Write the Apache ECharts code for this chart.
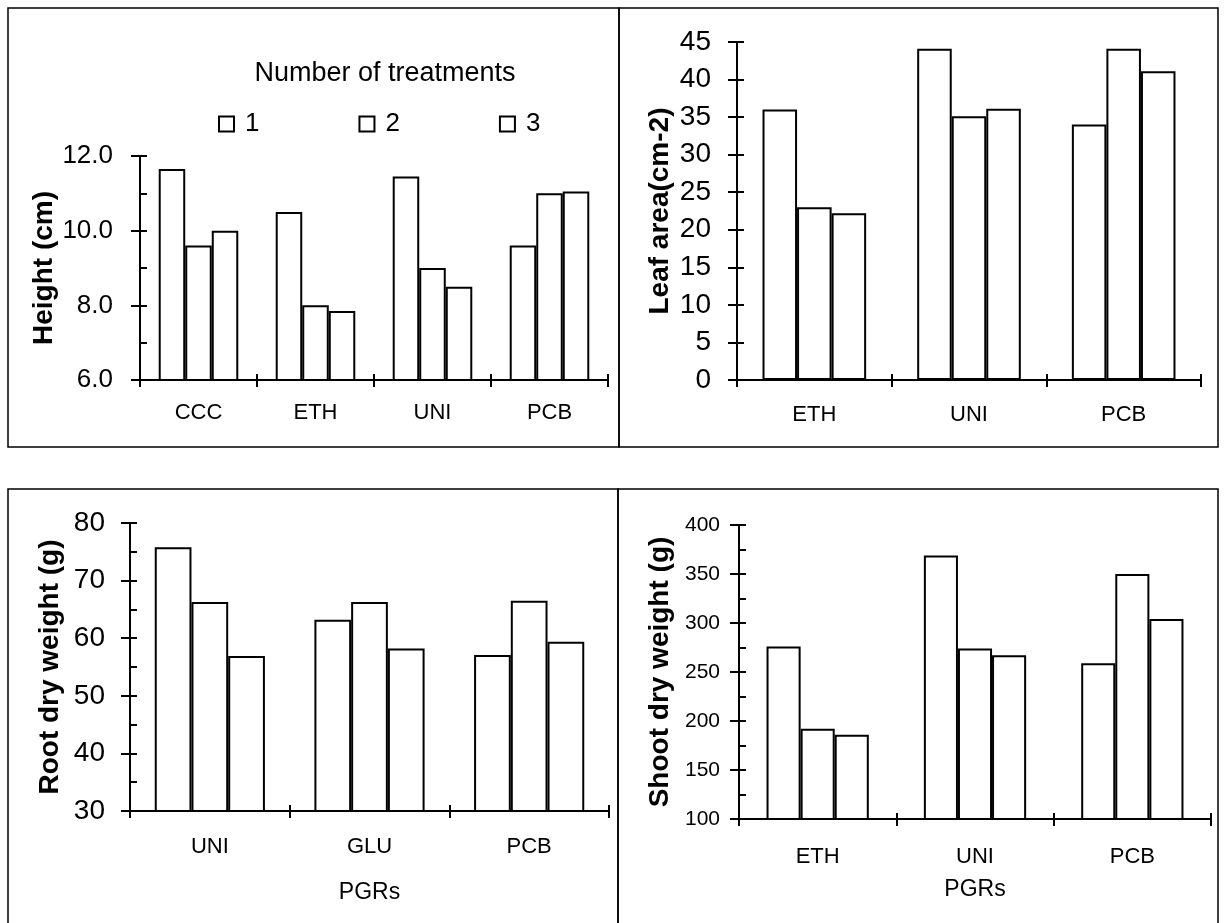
<!DOCTYPE html>
<html>
<head>
<meta charset="utf-8">
<script src="https://cdn.jsdelivr.net/npm/echarts@6/dist/echarts.min.js"></script>
<style>
  html, body { margin: 0; padding: 0; background: #fff; }
  #chart { width: 1226px; height: 923px; }
</style>
</head>
<body>
<div id="chart"></div>
<script>
// plant height, cm
const heightCats = ['CCC', 'ETH', 'UNI', 'PCB'];
const height1 = [11.65, 10.5, 11.45, 9.6];
const height2 = [9.6, 8.0, 9.0, 11.0];
const height3 = [10.0, 7.85, 8.5, 11.05];

// leaf area
const leafCats = ['ETH', 'UNI', 'PCB'];
const leaf1 = [36.0, 44.1, 34.0];
const leaf2 = [23.0, 35.1, 44.1];
const leaf3 = [22.2, 36.1, 41.1];

// root dry weight, g
const rootCats = ['UNI', 'GLU', 'PCB'];
const root1 = [75.8, 63.2, 57.1];
const root2 = [66.3, 66.3, 66.5];
const root3 = [56.9, 58.2, 59.4];

// shoot dry weight, g
const shootCats = ['ETH', 'UNI', 'PCB'];
const shoot1 = [276, 369, 259];
const shoot2 = [192, 274, 350];
const shoot3 = [186, 267, 304];

const treatments = ['1', '2', '3'];

const FONT = "'Liberation Sans', Arial, sans-serif";
const black = { color: '#000', width: 2 };

const panels = [
  {
    cats: heightCats, values: [height1, height2, height3],
    min: 6, max: 12, interval: 2, minor: true, digits: 1,
    grid: { left: 140, top: 156, width: 468, height: 224 },
    labelSize: 26, labelMargin: 27, catMargin: 22, gap: '32%',
    name: 'Height (cm)', nameGap: 79
  },
  {
    cats: leafCats, values: [leaf1, leaf2, leaf3],
    min: 0, max: 45, interval: 5, minor: false, digits: 0,
    grid: { left: 737, top: 42, width: 464, height: 338 },
    labelSize: 28, labelMargin: 26, catMargin: 24, gap: '33%',
    name: 'Leaf area(cm-2)', nameGap: 63
  },
  {
    cats: rootCats, values: [root1, root2, root3],
    min: 30, max: 80, interval: 10, minor: true, digits: 0,
    grid: { left: 130, top: 523, width: 479, height: 288 },
    labelSize: 28, labelMargin: 25, catMargin: 25, gap: '31%',
    name: 'Root dry weight (g)', nameGap: 66, xName: 'PGRs', xNameGap: 70
  },
  {
    cats: shootCats, values: [shoot1, shoot2, shoot3],
    min: 100, max: 400, interval: 50, minor: true, digits: 0,
    grid: { left: 739, top: 525, width: 472, height: 294 },
    labelSize: 21, labelMargin: 19, catMargin: 27, gap: '35%',
    name: 'Shoot dry weight (g)', nameGap: 65, xName: 'PGRs', xNameGap: 59
  }
];

const grid = [], xAxis = [], yAxis = [], series = [];

panels.forEach((p, i) => {
  grid.push(Object.assign({ containLabel: false }, p.grid));

  // main category axis + a second one that only draws the inward half of the ticks
  xAxis.push({
    gridIndex: i, type: 'category', data: p.cats, position: 'bottom',
    axisLine: { onZero: false, lineStyle: black },
    axisTick: { show: true, length: 7, lineStyle: black },
    axisLabel: { margin: p.catMargin, fontSize: 22, color: '#000', fontFamily: FONT },
    name: p.xName || '', nameLocation: 'middle', nameGap: p.xNameGap || 0,
    nameTextStyle: { fontSize: 23, color: '#000', fontFamily: FONT }
  });
  xAxis.push({
    gridIndex: i, type: 'category', data: p.cats, position: 'bottom',
    axisLine: { show: false, onZero: false },
    axisTick: { show: true, inside: true, length: 6, lineStyle: black },
    axisLabel: { show: false }
  });

  yAxis.push({
    gridIndex: i, type: 'value', position: 'left',
    min: p.min, max: p.max, interval: p.interval,
    axisLine: { show: true, lineStyle: black },
    axisTick: { show: true, length: 9, lineStyle: black },
    axisLabel: {
      margin: p.labelMargin, fontSize: p.labelSize, color: '#000', fontFamily: FONT,
      formatter: v => v.toFixed(p.digits)
    },
    splitLine: { show: false },
    name: p.name, nameLocation: 'middle', nameRotate: 90, nameGap: p.nameGap,
    nameTextStyle: { fontSize: 28, fontWeight: 'bold', color: '#000', fontFamily: FONT }
  });
  yAxis.push({
    gridIndex: i, type: 'value', position: 'left',
    min: p.min, max: p.max, interval: p.interval,
    axisLine: { show: false },
    axisTick: { show: true, inside: true, length: 7, lineStyle: black },
    minorTick: { show: p.minor, splitNumber: 2, length: 7, lineStyle: black },
    axisLabel: { show: false },
    splitLine: { show: false }
  });

  p.values.forEach((vals, k) => {
    series.push({
      type: 'bar', name: treatments[k],
      xAxisIndex: 2 * i, yAxisIndex: 2 * i,
      data: vals,
      barGap: '0%', barCategoryGap: p.gap,
      itemStyle: { color: '#fff', borderColor: '#000', borderWidth: 2 },
      silent: true
    });
  });
});

const frame = (x, y, w, h) => ({
  type: 'rect', shape: { x, y, width: w, height: h },
  style: { fill: 'none', stroke: '#000', lineWidth: 1.5 }, silent: true
});

const chart = echarts.init(document.getElementById('chart'), null, { renderer: 'canvas' });
chart.setOption({
  animation: false,
  backgroundColor: '#fff',
  grid, xAxis, yAxis, series,
  legend: {
    data: treatments, left: 213, top: 106,
    itemWidth: 15, itemHeight: 15, itemGap: 99, icon: 'rect',
    itemStyle: { color: '#fff', borderColor: '#000', borderWidth: 2 },
    textStyle: { fontSize: 26, color: '#000', fontFamily: FONT, padding: [0, 0, 0, 6] },
    selectedMode: false
  },
  graphic: [
    frame(8, 8, 611, 439),
    frame(619, 8, 599, 439),
    frame(8, 489, 610, 440),
    frame(618, 489, 600, 440),
    {
      type: 'text', x: 385, y: 74,
      style: {
        text: 'Number of treatments', fill: '#000', font: '27px ' + FONT,
        textAlign: 'center', textVerticalAlign: 'middle'
      }
    }
  ]
});
</script>
</body>
</html>
